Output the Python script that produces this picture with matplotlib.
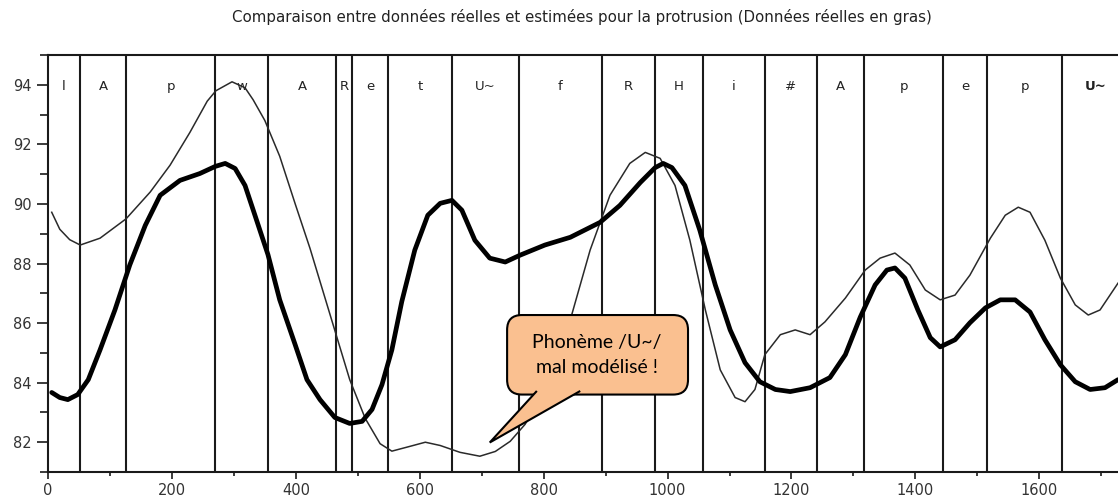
"""
Plot: real vs estimated protrusion with phoneme segmentation
"""

import matplotlib
matplotlib.use("Agg")
import matplotlib.pyplot as plt
from matplotlib.patches import FancyBboxPatch, Polygon
from matplotlib.ticker import MultipleLocator

# Phoneme segmentation (boundaries in samples) and labels
boundaries = [52, 126, 270, 355, 465, 491, 549, 652, 760, 894, 980, 1057,
              1157, 1241, 1317, 1445, 1516, 1637]
segment_start = 0
segment_end = 1745
phonemes = ["l", "A", "p", "w", "A", "R", "e", "t", "U~", "f", "R", "H",
            "i", "#", "A", "p", "e", "p", "U~"]

# Real data (thick curve)
real_x = [6, 19, 32, 48, 65, 84, 108, 132, 157, 181, 213, 245, 270, 286, 302,
          318, 334, 355, 374, 399, 418, 439, 463, 487, 507, 523, 539, 555, 571,
          592, 613, 633, 652, 668, 689, 713, 738, 762, 802, 843, 891, 923, 956,
          980, 993, 1007, 1028, 1052, 1077, 1101, 1125, 1149, 1174, 1198, 1230,
          1262, 1287, 1311, 1335, 1354, 1367, 1383, 1404, 1424, 1440, 1464,
          1488, 1513, 1537, 1561, 1585, 1609, 1634, 1658, 1682, 1706, 1727]
real_y = [83.67, 83.50, 83.43, 83.60, 84.10, 85.10, 86.44, 87.95, 89.28, 90.29,
          90.79, 91.02, 91.26, 91.36, 91.19, 90.62, 89.62, 88.30, 86.78, 85.27,
          84.10, 83.43, 82.83, 82.63, 82.70, 83.10, 83.93, 85.10, 86.72, 88.45,
          89.62, 90.02, 90.12, 89.79, 88.78, 88.18, 88.05, 88.28, 88.62, 88.88,
          89.38, 89.95, 90.72, 91.22, 91.36, 91.22, 90.62, 89.12, 87.28, 85.77,
          84.67, 84.03, 83.77, 83.70, 83.83, 84.17, 84.94, 86.20, 87.28, 87.78,
          87.85, 87.51, 86.44, 85.51, 85.20, 85.44, 86.01, 86.51, 86.78, 86.78,
          86.37, 85.44, 84.60, 84.03, 83.77, 83.83, 84.10]

# Estimated data (thin curve)
est_x = [6, 19, 35, 52, 84, 126, 165, 197, 229, 257, 271, 297, 318, 331, 350,
         374, 399, 423, 455, 487, 512, 536, 555, 584, 609, 633, 665, 697, 722,
         746, 770, 794, 818, 843, 875, 907, 939, 964, 988, 1012, 1036, 1061,
         1085, 1109, 1125, 1141, 1157, 1182, 1206, 1230, 1254, 1287, 1319, 1343,
         1367, 1391, 1416, 1440, 1464, 1488, 1521, 1545, 1566, 1585, 1609, 1634,
         1658, 1679, 1698, 1727]
est_y = [89.72, 89.15, 88.80, 88.62, 88.85, 89.50, 90.40, 91.30, 92.40, 93.45,
         93.80, 94.10, 93.90, 93.50, 92.80, 91.60, 90.00, 88.50, 86.30, 84.10,
         82.80, 81.95, 81.70, 81.86, 82.00, 81.89, 81.66, 81.53, 81.69, 82.03,
         82.60, 83.43, 84.60, 86.11, 88.45, 90.29, 91.36, 91.73, 91.53, 90.62,
         88.78, 86.44, 84.43, 83.50, 83.36, 83.77, 84.94, 85.61, 85.77, 85.61,
         86.04, 86.84, 87.78, 88.18, 88.35, 87.95, 87.11, 86.78, 86.94, 87.61,
         88.85, 89.62, 89.89, 89.72, 88.78, 87.51, 86.61, 86.27, 86.44, 87.34]

TITLE = ("Comparaison entre données réelles et estimées pour la protrusion "
         "(Données réelles en gras)")
CALLOUT_TEXT = "Phonème /U~/\nmal modélisé !"

FIGSIZE = (11.18, 5.04)
DPI = 100
INK = "#1a1a1a"


def plot_protrusion(output_path):
    fig = plt.figure(figsize=FIGSIZE, dpi=DPI)
    ax = fig.add_axes([48 / 1118, 32 / 504, 1 - 48 / 1118, 417 / 504])

    ax.set_xlim(0, 1727)
    ax.set_ylim(81, 95)

    # segmentation
    for b in boundaries:
        ax.axvline(b, color=INK, lw=1.5, zorder=1)
    edges = [segment_start] + boundaries + [segment_end]
    for i, lab in enumerate(phonemes):
        xc = (edges[i] + edges[i + 1]) / 2
        ax.text(xc, 93.93, lab, ha="center", va="center", fontsize=9.5,
                family="DejaVu Sans", color="#222222",
                fontweight="bold" if i == len(phonemes) - 1 else "normal",
                zorder=2)

    ax.plot(est_x, est_y, color="#2a2a2a", lw=1.1, zorder=3)
    ax.plot(real_x, real_y, color="black", lw=3.4, zorder=4,
            solid_joinstyle="round", solid_capstyle="round")

    # axes style
    ax.spines["right"].set_visible(False)
    for s in ("left", "top", "bottom"):
        ax.spines[s].set_linewidth(1.5)
        ax.spines[s].set_color(INK)
    ax.xaxis.set_major_locator(MultipleLocator(200))
    ax.xaxis.set_minor_locator(MultipleLocator(100))
    ax.yaxis.set_major_locator(MultipleLocator(2))
    ax.yaxis.set_minor_locator(MultipleLocator(1))
    ax.tick_params(axis="x", which="major", direction="out", length=5,
                   width=1.2, color=INK, pad=3)
    ax.tick_params(axis="x", which="minor", direction="out", length=3,
                   width=1.2, color=INK)
    ax.tick_params(axis="y", which="major", direction="out", length=8,
                   width=1.2, color=INK, pad=4)
    ax.tick_params(axis="y", which="minor", direction="out", length=6,
                   width=1.2, color=INK)
    for lab in ax.get_xticklabels() + ax.get_yticklabels():
        lab.set_family("DejaVu Sans")
        lab.set_fontsize(10.5)
        lab.set_color("#333333")

    # callout
    box = FancyBboxPatch((741, 83.6), 292, 2.67,
                         boxstyle="round,pad=0,rounding_size=24",
                         mutation_aspect=0.0207, fc="#FAC090", ec="black",
                         lw=1.5, zorder=6, clip_on=False)
    ax.add_patch(box)
    tail = Polygon([(789, 83.72), (713, 81.99), (859, 83.72)], closed=False,
                   fc="#FAC090", ec="black", lw=1.5, zorder=7,
                   joinstyle="miter")
    ax.add_patch(tail)
    ax.text(886, 84.93, CALLOUT_TEXT, ha="center", va="center",
            fontsize=14, family="Lato", color="black", linespacing=1.55,
            zorder=8)

    fig.text(0.5206, 1 - 17 / 504, TITLE, ha="center", va="center",
             fontsize=10.8, family="DejaVu Sans", color="#222222")

    plt.savefig(output_path, dpi=DPI)
    plt.close()
    print(f"Saved: {output_path}")


if __name__ == "__main__":
    plot_protrusion("out.png")
